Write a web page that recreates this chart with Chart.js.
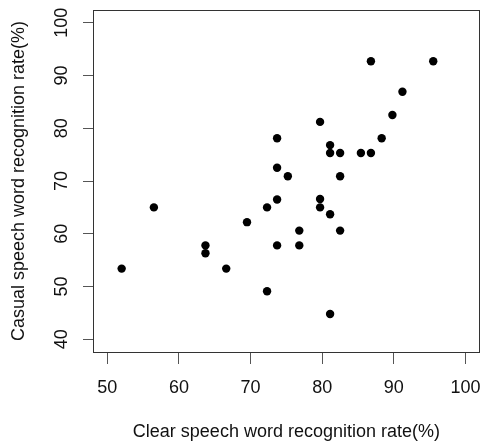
<!DOCTYPE html>
<html>
<head>
<meta charset="utf-8">
<script src="https://cdn.jsdelivr.net/npm/chart.js@4/dist/chart.umd.min.js"></script>
<style>
  html, body { margin: 0; padding: 0; background: #fff; }
  #wrap { width: 484px; height: 443px; position: relative; }
</style>
</head>
<body>
<div id="wrap"><canvas id="myChart"></canvas></div>
<script>
// word recognition rates (%) per listener
const clearRate = [52.0, 56.5, 63.7, 63.7, 66.6, 69.5, 72.3, 72.3, 73.7, 73.7, 73.7, 73.7,
    75.2, 76.8, 76.8, 79.7, 79.7, 79.7, 81.1, 81.1, 81.1, 81.1, 82.5, 82.5, 82.5,
    85.4, 86.8, 86.8, 88.3, 89.8, 91.2, 95.5];
const casualRate = [53.4, 65.0, 57.8, 56.3, 53.4, 62.2, 65.0, 49.1, 78.1, 72.5, 66.5, 57.8,
    70.9, 60.6, 57.8, 81.2, 66.6, 65.0, 76.8, 75.3, 63.7, 44.8, 75.3, 70.9, 60.6,
    75.3, 75.3, 92.7, 78.1, 82.5, 86.9, 92.7];
const xTicks = [50, 60, 70, 80, 90, 100];
const yTicks = [40, 50, 60, 70, 80, 90, 100];

const font = { family: 'Liberation Sans, Arial, sans-serif', size: 18 };

// box round the plot region, like R's box()
const boxPlugin = {
    id: 'plotBox',
    afterDraw(chart) {
        const { ctx, chartArea: a } = chart;
        ctx.save();
        ctx.strokeStyle = '#333';
        ctx.lineWidth = 1;
        ctx.strokeRect(Math.round(a.left) + 0.5, Math.round(a.top) + 0.5,
            Math.round(a.right - a.left) - 1, Math.round(a.bottom - a.top));
        ctx.restore();
    }
};

const points = clearRate.map((x, i) => ({ x: x, y: casualRate[i] }));

new Chart(document.getElementById('myChart'), {
    type: 'scatter',
    data: {
        datasets: [{
            data: points,
            backgroundColor: '#000',
            borderColor: '#000',
            pointRadius: 4.2,
            pointBorderWidth: 0
        }]
    },
    options: {
        responsive: true,
        maintainAspectRatio: false,
        animation: false,
        layout: { padding: { top: 10, right: 1, bottom: 0, left: 0 } },
        plugins: { legend: { display: false }, tooltip: { enabled: false } },
        scales: {
            x: {
                type: 'linear',
                min: 48,
                max: 102,
                afterBuildTicks: (s) => { s.ticks = xTicks.map(v => ({ value: v })); },
                afterFit: (s) => { s.height = 91; s.paddingLeft = 0; s.paddingRight = 0; },
                grid: { drawOnChartArea: false, tickLength: 12, color: '#555' },
                border: { display: false },
                ticks: { font: font, color: '#111', padding: 13, maxRotation: 0 },
                title: {
                    display: true,
                    text: 'Clear speech word recognition rate(%)',
                    font: font,
                    color: '#111',
                    padding: { top: 0, bottom: 0 }
                }
            },
            y: {
                type: 'linear',
                min: 37.6,
                max: 102.4,
                afterBuildTicks: (s) => { s.ticks = yTicks.map(v => ({ value: v })); },
                afterFit: (s) => { s.width = 93; s.paddingTop = 0; s.paddingBottom = 0; },
                grid: { drawOnChartArea: false, tickLength: 10, color: '#555' },
                border: { display: false },
                ticks: { font: font, color: '#111', padding: 6, minRotation: 90, maxRotation: 90, crossAlign: 'center' },
                title: {
                    display: true,
                    text: 'Casual speech word recognition rate(%)',
                    font: font,
                    color: '#111',
                    padding: { top: 8, bottom: 0 }
                }
            }
        }
    },
    plugins: [boxPlugin]
});
</script>
</body>
</html>
